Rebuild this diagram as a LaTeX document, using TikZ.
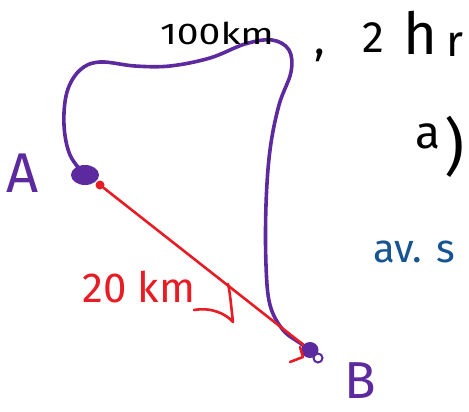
\documentclass[tikz,border=0pt]{standalone}
\usepackage{fontspec}
\setmainfont{Fira Sans}
\usetikzlibrary{shapes.geometric}
\definecolor{pen}{RGB}{92,42,158}
\definecolor{redpen}{RGB}{232,28,36}
\definecolor{bluepen}{RGB}{22,84,146}
\tikzset{
  purplepen/.style={draw=pen,line width=3.6pt,line cap=round,line join=round},
  redline/.style={draw=redpen,line width=2.6pt,line cap=round,line join=round},
  blob/.style={ellipse,fill=pen,inner sep=0pt},
  hand/.style={font=\fontsize{#1}{#1}\selectfont,inner sep=0pt,anchor=base},
}
\begin{document}
\begin{tikzpicture}[x=1pt,y=-1pt]
\useasboundingbox (0,0) rectangle (469,412);
% blobs
\node[blob,minimum width=28pt,minimum height=20pt] (blobA) at (85,175) {};
\node[circle,fill=redpen,minimum size=9pt,inner sep=0pt] (dotA) at (100,185) {};
\node[blob,minimum width=17pt,minimum height=16pt] (blobB) at (310,350) {};
\draw[draw=pen,line width=2pt] (318,358) circle (4.5pt);
% purple path
\draw[purplepen] plot[smooth,tension=0.6] coordinates {(blobA) (70,155) (64,125) (67,92) (80,70) (100,62) (135,66) (170,66) (210,58) (245,44) (272,40) (289,50) (291,72) (279,105) (270,150) (266,205) (266,265) (270,305) (283,330) (300,343) (blobB)};
% red line
\draw[redline] (dotA) -- (blobB);
\coordinate (tipM) at (233,322);
\draw[redline] (194,310) .. controls (212,307) and (226,314) .. (tipM) .. controls (231,305) and (230,292) .. (228,284);
\draw[redline] (290,362) -- (303,357) -- (300,347);
% labels
\node[hand=56,text=pen] (A) at (23,192) {A};
\node[hand=52,text=pen] (B) at (360,398) {B};
\node[hand=42,text=redpen] (d20) at (139,302) {20 km};
\node[hand=30,xscale=1.3] (d100) at (217,45) {100km};
\node[hand=44] (comma) at (320,55) {,};
\node[hand=44] (two) at (373,53) {2};
\node[hand=58] (h) at (420,55) {h};
\node[hand=44] (r) at (455,57) {r};
\node[hand=46] (a) at (428,148) {a};
\node[hand=62] (paren) at (455,168) {)};
\node[hand=40,text=bluepen] (avs) at (414,262) {av. s};
\end{tikzpicture}
\end{document}
